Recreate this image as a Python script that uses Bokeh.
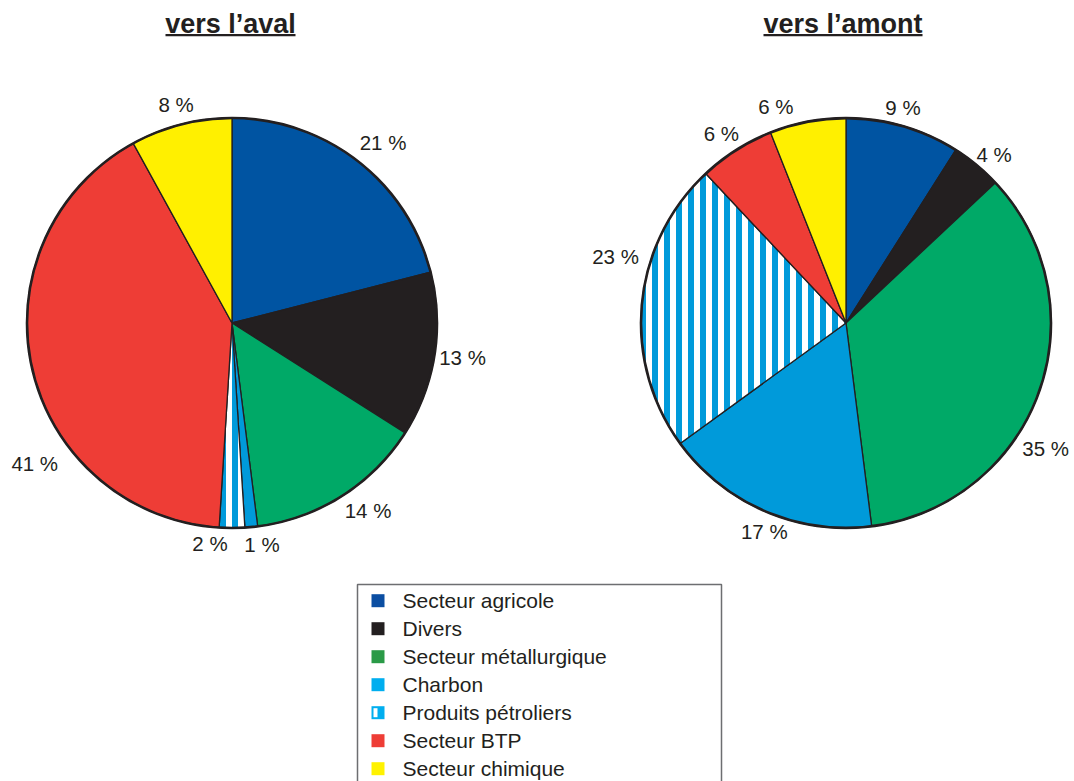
import math
from bokeh.plotting import figure
from bokeh.models import ColumnDataSource, Range1d
from bokeh.embed import file_html
from bokeh.resources import INLINE
from bokeh.core.properties import value

# ---------------- data ----------------
categories = ["Secteur agricole", "Divers", "Secteur métallurgique", "Charbon",
              "Produits pétroliers", "Secteur BTP", "Secteur chimique"]
aval = [21, 13, 14, 1, 2, 41, 8]
amont = [9, 4, 35, 17, 23, 6, 6]
titles = ["vers l’aval", "vers l’amont"]

pie_colors = ["#0054A2", "#231F20", "#00A967", "#009ADA", "#FFFFFF", "#EE3D36", "#FFF000"]
legend_colors = ["#0B4EA2", "#231F20", "#2A9A47", "#00AEEF", "#00AEEF", "#EE3D36", "#FFF200"]
hatches = [" ", " ", " ", " ", "vertical_line", " ", " "]
HATCH_BLUE = "#009ADA"

# ---------------- layout (pixels) ----------------
W, H = 1074, 781
FONT = "Liberation Sans"

def fy(Y):  # screen Y -> data y
    return H - Y

centers_x = [231.5, 845.5]
center_Y = 322.5
R = 205
# label placement: angle clockwise from top (deg) and distance from centre (px)
label_angles = [[40, 98.4, 144.1, 172.3, 185.7, 234.6, 345.7],
                [14.8, 41.4, 122.2, 201.4, 286.2, 326.7, 342.1]]
label_dists = [[235, 233, 232, 224, 222, 242, 226],
               [223, 224, 236, 224, 240, 227, 228]]
title_x = [230, 842.5]
title_half_w = [65, 79.5]

p = figure(width=W, height=H, output_backend="svg", toolbar_location=None,
           x_range=Range1d(0, W), y_range=Range1d(0, H),
           min_border=0, outline_line_color=None)
p.axis.visible = False
p.grid.visible = False
p.background_fill_color = "white"
p.border_fill_color = "white"

for k, vals in enumerate([aval, amont]):
    cx, cy = centers_x[k], fy(center_Y)
    total = float(sum(vals))
    starts, ends = [], []
    cum = 0.0
    for v in vals:
        a0 = cum / total * 2 * math.pi
        cum += v
        a1 = cum / total * 2 * math.pi
        starts.append(math.pi / 2 - a0)
        ends.append(math.pi / 2 - a1)
    src = ColumnDataSource(dict(x=[cx] * len(vals), y=[cy] * len(vals),
                                start=starts, end=ends, color=pie_colors,
                                hatch=hatches))
    p.wedge(x="x", y="y", radius=R, start_angle="start", end_angle="end",
            direction="clock", fill_color="color", line_color="#231F20",
            line_width=1.3, hatch_pattern="hatch", hatch_color=HATCH_BLUE,
            hatch_weight=6, hatch_scale=12, source=src)
    p.circle(x=[cx], y=[cy], radius=R, fill_color=None, line_color="#231F20",
             line_width=2.6)
    # labels
    lx, ly, lt = [], [], []
    for i, v in enumerate(vals):
        ang = math.radians(label_angles[k][i])
        d = label_dists[k][i]
        lx.append(cx + d * math.sin(ang))
        ly.append(cy + d * math.cos(ang))
        lt.append(f"{v} %")
    p.text(x=lx, y=ly, text=lt, text_align="center", text_baseline="middle",
           text_font=value(FONT), text_font_size="20.5px", text_color="#231F20")
    # title + underline
    p.text(x=[title_x[k]], y=[fy(23.2)], text=[titles[k]], text_align="center",
           text_baseline="middle", text_font=value(FONT), text_font_size="27px",
           text_font_style="bold", text_color="#231F20")
    p.segment(x0=[title_x[k] - title_half_w[k]], x1=[title_x[k] + title_half_w[k]],
              y0=[fy(34.6)], y1=[fy(34.6)], line_color="#231F20", line_width=2.2)

# ---------------- legend ----------------
box_l, box_r, box_t = 357, 721, 584
p.quad(left=[box_l], right=[box_r], top=[fy(box_t)], bottom=[fy(800)],
       fill_color="white", line_color="#6D6E71", line_width=1.5)
row0, row_h = 600.2, 28
mk_cx, mk_s = 377.5, 13
txt_x = 402
n = len(categories)
mid_Y = [row0 + i * row_h for i in range(n)]
p.quad(left=[mk_cx - mk_s / 2] * n, right=[mk_cx + mk_s / 2] * n,
       top=[fy(y - mk_s / 2) for y in mid_Y], bottom=[fy(y + mk_s / 2) for y in mid_Y],
       fill_color=legend_colors, line_color=None)
# white inner part of the "Produits pétroliers" marker
ip = categories.index("Produits pétroliers")
p.quad(left=[mk_cx - mk_s / 2 + 2], right=[mk_cx - 0.5],
       top=[fy(mid_Y[ip] - mk_s / 2 + 2)], bottom=[fy(mid_Y[ip] + mk_s / 2 - 2)],
       fill_color="white", line_color=None)
p.text(x=[txt_x] * n, y=[fy(y) for y in mid_Y], text=categories,
       text_align="left", text_baseline="middle", text_font=value(FONT),
       text_font_size="21px", text_color="#231F20")

open("out.html", "w").write(file_html(p, INLINE))
